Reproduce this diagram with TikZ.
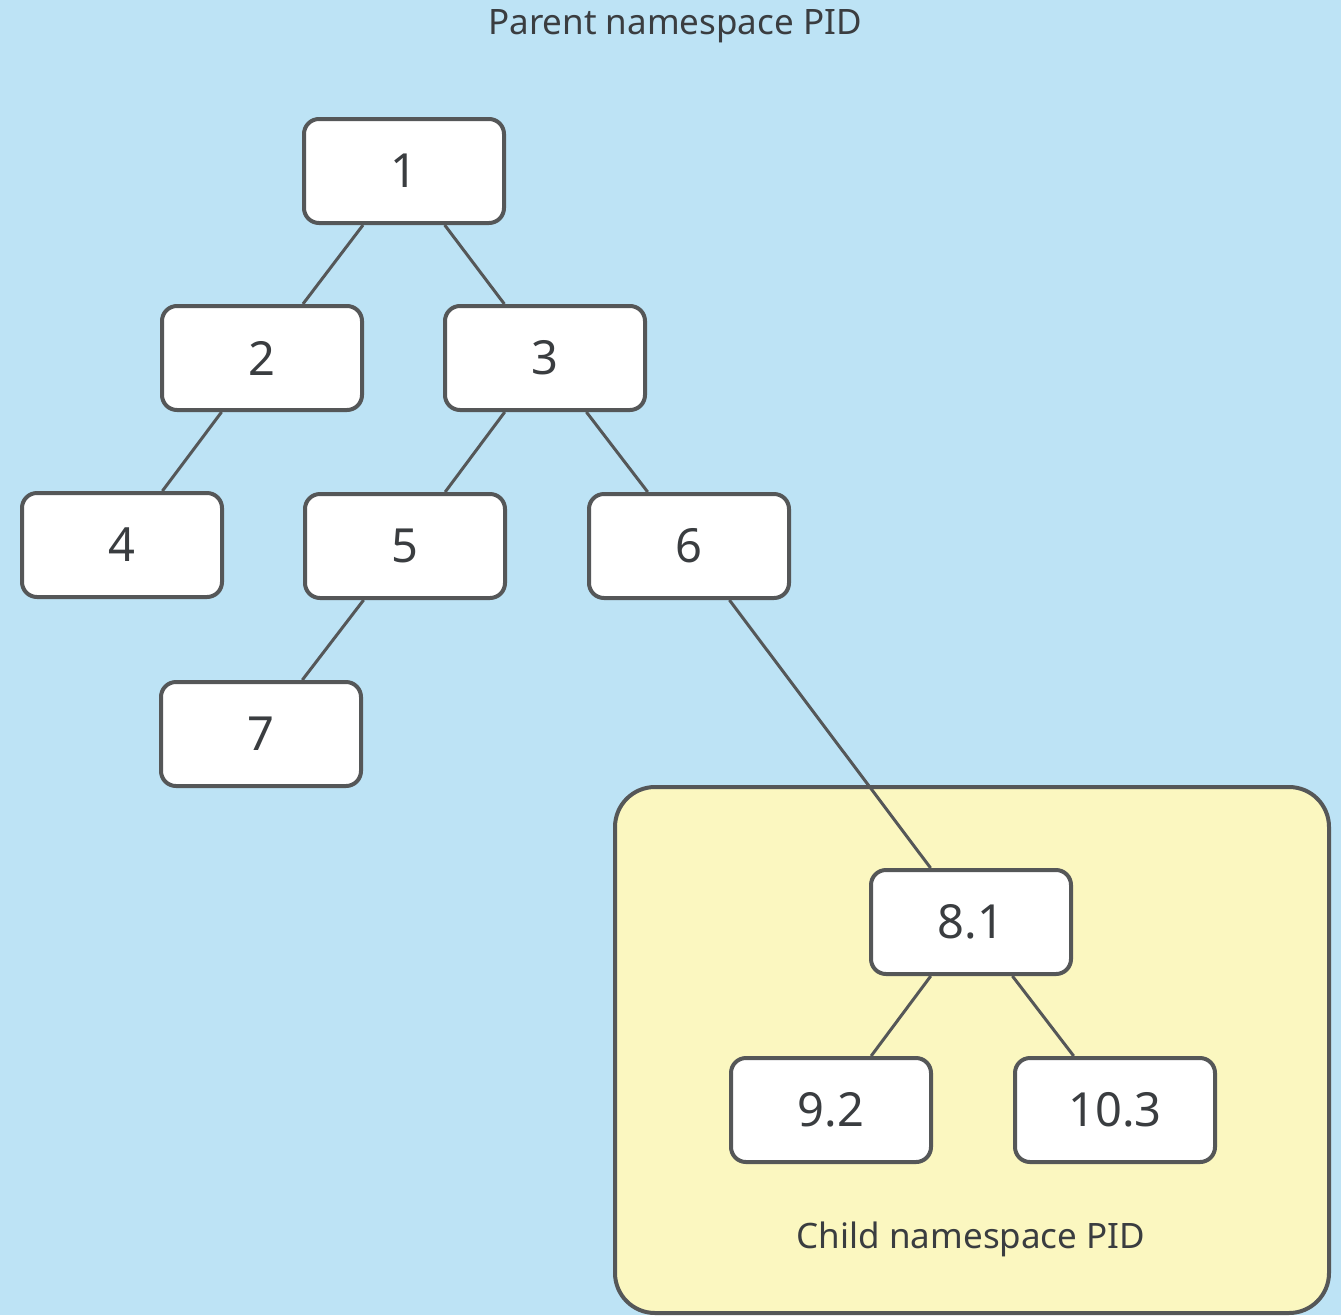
\documentclass[tikz,border=0pt]{standalone}
\usepackage{fontspec}
\setmainfont{Noto Sans}
\begin{document}
\begin{tikzpicture}[x=1pt,y=-1pt,
  pidbox/.style={draw=edgegray, line width=4pt, fill=white, rounded corners=15pt,
    minimum width=200pt, minimum height=104pt, inner sep=0pt,
    font=\fontsize{47}{50}\selectfont, text=textgray},
  link/.style={draw=edgegray, line width=3pt},
  caption/.style={font=\fontsize{35}{40}\selectfont, text=textgray, inner sep=0pt}]
\definecolor{bgblue}{HTML}{BDE3F5}
\definecolor{nsyellow}{HTML}{FBF7C0}
\definecolor{edgegray}{HTML}{555758}
\definecolor{textgray}{HTML}{3A3D40}
% background
\fill[bgblue] (0,0) rectangle (1341,1315);
\useasboundingbox (0,0) rectangle (1341,1315);
% child namespace area
\draw[edgegray, line width=4pt, fill=nsyellow, rounded corners=40pt] (615,787) rectangle (1329,1313);
% titles
\node[caption] (parentlbl) at (675,26) {Parent namespace PID};
\node[caption] (childlbl) at (971,1239) {Child namespace PID};
% process boxes
\node[pidbox] (n1) at (404,171) {1};
\node[pidbox] (n2) at (262,358) {2};
\node[pidbox] (n3) at (545,358) {3};
\node[pidbox] (n4) at (122,545) {4};
\node[pidbox] (n5) at (405,546) {5};
\node[pidbox] (n6) at (689,546) {6};
\node[pidbox] (n7) at (261,734) {7};
\node[pidbox] (n81) at (971,922) {8.1};
\node[pidbox] (n92) at (831,1110) {9.2};
\node[pidbox] (n103) at (1115,1110) {10.3};
% parent/child links
\draw[link] (n1) -- (n2);
\draw[link] (n1) -- (n3);
\draw[link] (n2) -- (n4);
\draw[link] (n3) -- (n5);
\draw[link] (n3) -- (n6);
\draw[link] (n5) -- (n7);
\draw[link] (n6) -- (n81);
\draw[link] (n81) -- (n92);
\draw[link] (n81) -- (n103);
\end{tikzpicture}
\end{document}
